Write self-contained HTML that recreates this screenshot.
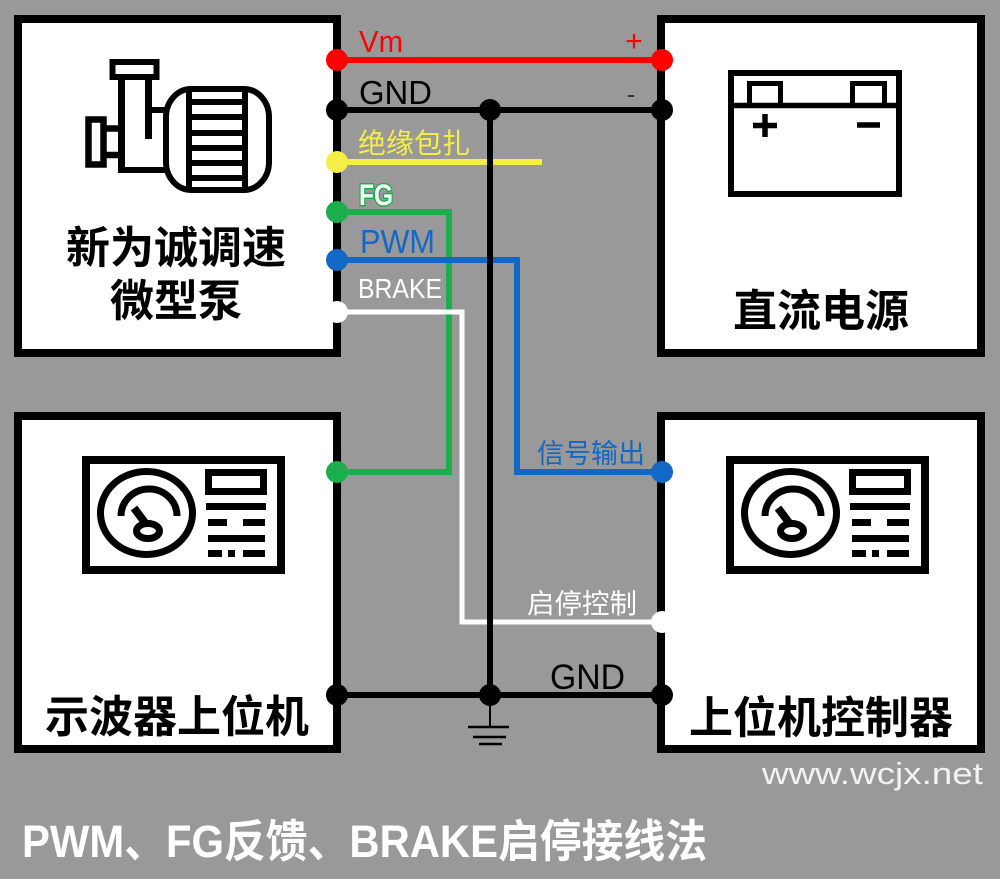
<!DOCTYPE html>
<html>
<head>
<meta charset="utf-8">
<style>
html,body{margin:0;padding:0;background:#999;}
svg{display:block;}
text{font-family:"Liberation Sans","Noto Sans CJK SC",sans-serif;}
</style>
</head>
<body>
<svg width="1000" height="879" viewBox="0 0 1000 879" xmlns="http://www.w3.org/2000/svg">
<rect x="0" y="0" width="1000" height="879" fill="#999999"/>

<!-- Boxes -->
<rect x="18" y="19" width="319" height="334" fill="#fff" stroke="#000" stroke-width="8"/>
<rect x="661" y="19" width="320" height="334" fill="#fff" stroke="#000" stroke-width="8"/>
<rect x="18" y="416" width="319" height="333" fill="#fff" stroke="#000" stroke-width="8"/>
<rect x="661" y="416" width="320" height="333" fill="#fff" stroke="#000" stroke-width="8"/>

<!-- Pump icon -->
<g stroke="#000" fill="none">
  <rect x="112.5" y="62" width="44" height="15" stroke-width="6"/>
  <line x1="121.5" y1="77" x2="121.5" y2="173" stroke-width="7"/>
  <line x1="118" y1="170" x2="168" y2="170" stroke-width="6"/>
  <line x1="148.5" y1="77" x2="148.5" y2="139" stroke-width="7"/>
  <line x1="148" y1="110" x2="168" y2="110" stroke-width="6"/>
  <rect x="88.5" y="119.5" width="15" height="45" stroke-width="6.5"/>
  <line x1="104" y1="128.5" x2="122" y2="128.5" stroke-width="6.5"/>
  <line x1="104" y1="155" x2="122" y2="155" stroke-width="6.5"/>
  <rect x="166" y="89" width="103" height="101" rx="25" ry="28" stroke-width="6"/>
  <line x1="189" y1="89" x2="189" y2="190" stroke-width="6"/>
  <line x1="245" y1="89" x2="245" y2="190" stroke-width="6"/>
  <g stroke-width="6">
    <line x1="189" y1="102" x2="245" y2="102"/>
    <line x1="189" y1="117" x2="245" y2="117"/>
    <line x1="189" y1="133" x2="245" y2="133"/>
    <line x1="189" y1="148" x2="245" y2="148"/>
    <line x1="189" y1="163" x2="245" y2="163"/>
    <line x1="189" y1="178" x2="245" y2="178"/>
  </g>
</g>

<!-- Battery icon -->
<g stroke="#000" fill="none">
  <rect x="731" y="73" width="168" height="121" stroke-width="6"/>
  <line x1="731" y1="105.5" x2="899" y2="105.5" stroke-width="5.5"/>
  <rect x="749.5" y="83.5" width="31" height="22" stroke-width="5"/>
  <rect x="852.5" y="83.5" width="32" height="22" stroke-width="5"/>
  <line x1="753" y1="125.5" x2="777" y2="125.5" stroke-width="5.5"/>
  <line x1="765" y1="114" x2="765" y2="137" stroke-width="5.5"/>
  <line x1="857" y1="125" x2="880" y2="125" stroke-width="5.5"/>
</g>

<!-- Gauge icons -->
<g>
  <g stroke="#000" fill="none">
    <rect x="86" y="460" width="195" height="110" stroke-width="8"/>
    <ellipse cx="146.5" cy="513" rx="46" ry="41.5" stroke-width="7"/>
    <path d="M121,516 A28,27 0 0 1 177,516" stroke-width="7"/>
    <line x1="134" y1="508" x2="146" y2="524" stroke-width="8"/>
    <ellipse cx="148" cy="531" rx="11.5" ry="7.5" stroke-width="7"/>
    <rect x="208.5" y="472.5" width="55" height="19" stroke-width="7"/>
  </g>
  <g fill="#000">
    <rect x="206" y="503" width="60" height="7"/>
    <rect x="208" y="519" width="19" height="7"/>
    <rect x="243" y="519" width="22" height="7"/>
    <rect x="208" y="535" width="57" height="7"/>
    <rect x="208" y="550" width="14" height="7"/>
    <rect x="228" y="550" width="7" height="7"/>
    <rect x="243" y="550" width="22" height="7"/>
  </g>
</g>
<g transform="translate(644,0)">
  <g stroke="#000" fill="none">
    <rect x="86" y="460" width="195" height="110" stroke-width="8"/>
    <ellipse cx="146.5" cy="513" rx="46" ry="41.5" stroke-width="7"/>
    <path d="M121,516 A28,27 0 0 1 177,516" stroke-width="7"/>
    <line x1="134" y1="508" x2="146" y2="524" stroke-width="8"/>
    <ellipse cx="148" cy="531" rx="11.5" ry="7.5" stroke-width="7"/>
    <rect x="208.5" y="472.5" width="55" height="19" stroke-width="7"/>
  </g>
  <g fill="#000">
    <rect x="206" y="503" width="60" height="7"/>
    <rect x="208" y="519" width="19" height="7"/>
    <rect x="243" y="519" width="22" height="7"/>
    <rect x="208" y="535" width="57" height="7"/>
    <rect x="208" y="550" width="14" height="7"/>
    <rect x="228" y="550" width="7" height="7"/>
    <rect x="243" y="550" width="22" height="7"/>
  </g>
</g>

<!-- Wires -->
<g fill="none" stroke-linejoin="miter">
  <line x1="337" y1="60" x2="662" y2="60" stroke="#ff0000" stroke-width="6"/>
  <line x1="337" y1="162" x2="542" y2="162" stroke="#f5ef45" stroke-width="6"/>
  <polyline points="337,212 449,212 449,472 337,472" stroke="#1cad4c" stroke-width="6"/>
  <polyline points="337,260 517,260 517,472 662,472" stroke="#1268c4" stroke-width="6"/>
  <polyline points="337,312 462,312 462,622 662,622" stroke="#ffffff" stroke-width="5"/>
  <line x1="337" y1="110" x2="662" y2="110" stroke="#000" stroke-width="6"/>
  <line x1="490" y1="110" x2="490" y2="695" stroke="#000" stroke-width="6"/>
  <line x1="337" y1="695" x2="662" y2="695" stroke="#000" stroke-width="6"/>
  <line x1="490" y1="695" x2="490" y2="727" stroke="#000" stroke-width="2"/>
  <line x1="468" y1="727" x2="509" y2="727" stroke="#000" stroke-width="2.5"/>
  <line x1="473" y1="737" x2="506" y2="737" stroke="#000" stroke-width="2.5"/>
  <line x1="479" y1="744" x2="502" y2="744" stroke="#000" stroke-width="2.5"/>
</g>

<!-- Dots -->
<g>
  <circle cx="337" cy="60" r="11" fill="#ff0000"/>
  <circle cx="662" cy="60" r="11" fill="#ff0000"/>
  <circle cx="337" cy="110" r="11" fill="#000"/>
  <circle cx="490" cy="110" r="11" fill="#000"/>
  <circle cx="662" cy="110" r="11" fill="#000"/>
  <circle cx="337" cy="162" r="11" fill="#f5ef45"/>
  <circle cx="337" cy="212" r="11" fill="#1cad4c"/>
  <circle cx="337" cy="260" r="11" fill="#1268c4"/>
  <circle cx="337" cy="312" r="11" fill="#ffffff"/>
  <circle cx="337" cy="472" r="11" fill="#1cad4c"/>
  <circle cx="662" cy="472" r="11" fill="#1268c4"/>
  <circle cx="662" cy="622" r="11" fill="#ffffff"/>
  <circle cx="337" cy="695" r="11" fill="#000"/>
  <circle cx="490" cy="695" r="11" fill="#000"/>
  <circle cx="662" cy="695" r="11" fill="#000"/>
</g>

<!-- Wire labels -->
<text x="359" y="52" font-size="31" fill="#ff0000" textLength="44" lengthAdjust="spacingAndGlyphs">Vm</text>
<text x="634" y="51" font-size="30" fill="#ff0000" text-anchor="middle">+</text>
<text x="359" y="104" font-size="33" fill="#000" textLength="73" lengthAdjust="spacingAndGlyphs">GND</text>
<text x="631" y="103" font-size="26" fill="#333" text-anchor="middle">-</text>
<text x="358" y="153" font-size="28" fill="#f5ef45">绝缘包扎</text>
<text x="359" y="205" font-size="30" font-weight="bold" fill="#ffffff" stroke="#1cad4c" stroke-width="3" paint-order="stroke" textLength="34" lengthAdjust="spacingAndGlyphs">FG</text>
<text x="360" y="253" font-size="33" fill="#1268c4" textLength="75" lengthAdjust="spacingAndGlyphs">PWM</text>
<text x="358" y="298" font-size="28" fill="#ffffff" textLength="84" lengthAdjust="spacingAndGlyphs">BRAKE</text>
<text x="537" y="463" font-size="27" fill="#1268c4">信号输出</text>
<text x="527" y="613" font-size="27.5" fill="#ffffff">启停控制</text>
<text x="550" y="689" font-size="35" fill="#000" textLength="75" lengthAdjust="spacingAndGlyphs">GND</text>

<!-- Box labels -->
<g font-size="44" font-weight="bold" fill="#000" text-anchor="middle">
  <text x="176" y="263">新为诚调速</text>
  <text x="176" y="316">微型泵</text>
  <text x="821" y="326">直流电源</text>
  <text x="177" y="732">示波器上位机</text>
  <text x="821" y="733">上位机控制器</text>
</g>

<text x="762" y="784" font-size="31" fill="#f2f2f2" textLength="221" lengthAdjust="spacingAndGlyphs">www.wcjx.net</text>

<text x="22" y="857" font-size="45" font-weight="bold" fill="#ffffff" textLength="685" lengthAdjust="spacingAndGlyphs">PWM、FG反馈、BRAKE启停接线法</text>
</svg>
</body>
</html>
